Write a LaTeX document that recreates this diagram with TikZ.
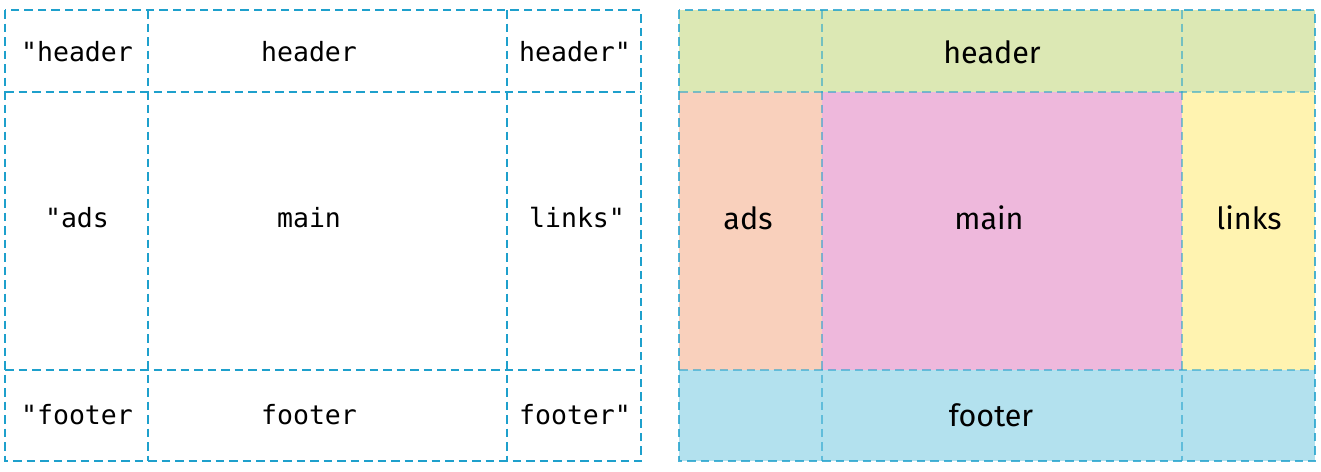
\documentclass[tikz,border=0pt]{standalone}
\usepackage{fontspec}
\setmainfont{Fira Sans}
\setmonofont{DejaVu Sans Mono}
\usetikzlibrary{positioning}
\definecolor{gridline}{RGB}{30,160,204}
\definecolor{hdrgreen}{RGB}{220,232,180}
\definecolor{adsorange}{RGB}{249,208,188}
\definecolor{mainpink}{RGB}{238,184,220}
\definecolor{linkyellow}{RGB}{255,243,176}
\definecolor{ftrblue}{RGB}{179,225,238}

\begin{document}
\begin{tikzpicture}[x=1pt,y=-1pt,
    gridln/.style={gridline,line width=2.4pt,dash pattern=on 8.5pt off 5pt},
    code/.style={font=\ttfamily\fontsize{26.5}{30}\selectfont},
    area/.style={font=\fontsize{30.5}{36}\selectfont}]
  \useasboundingbox (0,0) rectangle (1321,471);
  % template strings
  \node[code] (lhl) at (77,52) {"header};
  \node[code] (lhm) at (309,52) {header};
  \node[code] (lhr) at (575,52) {header"};
  \node[code] (lal) at (77,218) {"ads};
  \node[code] (lmm) at (309,218) {main};
  \node[code] (llr) at (577,218) {links"};
  \node[code] (lfl) at (77,415) {"footer};
  \node[code] (lfm) at (309,415) {footer};
  \node[code] (lfr) at (575,415) {footer"};
  \draw[gridln] (5,10) rectangle (641,461);
  \draw[gridln] (148,10) -- (148,461) (507,10) -- (507,461);
  \draw[gridln] (5,92) -- (641,92) (5,370) -- (641,370);
  % placed areas
  \fill[hdrgreen] (679,10) rectangle (1315,92);
  \fill[adsorange] (679,92) rectangle (822,370);
  \fill[mainpink] (822,92) rectangle (1182,370);
  \fill[linkyellow] (1182,92) rectangle (1315,370);
  \fill[ftrblue] (679,370) rectangle (1315,461);
  \node[area] (header) at (992,52) {header};
  \node[area] (ads) at (748,218) {ads};
  \node[area] (main) at (989,218) {main};
  \node[area] (links) at (1249,218) {links};
  \node[area] (footer) at (991,415) {footer};
  \draw[gridln,opacity=.55] (822,10) -- (822,461) (1182,10) -- (1182,461);
  \draw[gridln,opacity=.55] (679,92) -- (1315,92) (679,370) -- (1315,370);
  \draw[gridln,opacity=.8] (679,10) rectangle (1315,461);
\end{tikzpicture}
\end{document}
